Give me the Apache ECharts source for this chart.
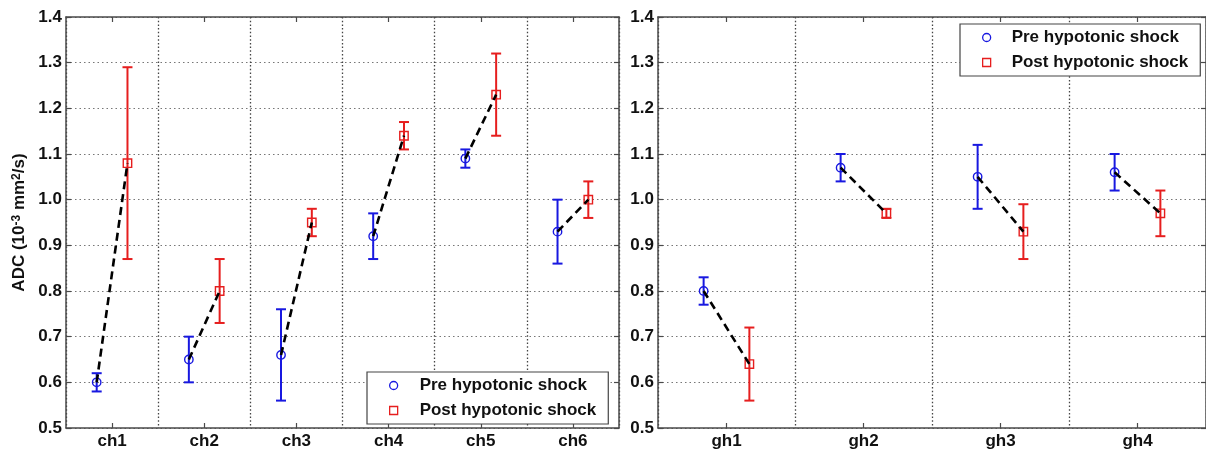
<!DOCTYPE html>
<html>
<head>
<meta charset="utf-8">
<script src="https://cdn.jsdelivr.net/npm/echarts@6/dist/echarts.min.js"></script>
<style>
html,body{margin:0;padding:0;background:#fff;}
#chart{width:1206px;height:454px;}
</style>
</head>
<body>
<div id="chart"></div>
<script>
// ---- Data ----
const catsL = ['ch1', 'ch2', 'ch3', 'ch4', 'ch5', 'ch6'];
const preL    = [0.60, 0.65, 0.66, 0.92, 1.09, 0.93];
const preLoL  = [0.58, 0.60, 0.56, 0.87, 1.07, 0.86];
const preHiL  = [0.62, 0.70, 0.76, 0.97, 1.11, 1.00];
const postL   = [1.08, 0.80, 0.95, 1.14, 1.23, 1.00];
const postLoL = [0.87, 0.73, 0.92, 1.11, 1.14, 0.96];
const postHiL = [1.29, 0.87, 0.98, 1.17, 1.32, 1.04];

const catsR = ['gh1', 'gh2', 'gh3', 'gh4'];
const preR    = [0.80, 1.07, 1.05, 1.06];
const preLoR  = [0.77, 1.04, 0.98, 1.02];
const preHiR  = [0.83, 1.10, 1.12, 1.10];
const postR   = [0.64, 0.97, 0.93, 0.97];
const postLoR = [0.56, 0.96, 0.87, 0.92];
const postHiR = [0.72, 0.98, 0.99, 1.02];

const yMin = 0.5, yMax = 1.4, yStep = 0.1;
const seriesNames = ['Pre hypotonic shock', 'Post hypotonic shock'];

// ---- Style ----
const BLUE = '#1818e0';
const RED = '#e61e1e';
const FONT = 'Liberation Sans';
const AXIS = '#4a4a4a';
const OFFSET = 0.167;

function errItems(mean, lo, hi) {
  return mean.map((m, i) => [i, m, lo[i], hi[i]]);
}
function pairItems(pre, post) {
  return pre.map((p, i) => [i, p, post[i]]);
}

function errRenderer(color, shape, sign) {
  return function (params, api) {
    const i = api.value(0);
    const bw = api.size([1, 0])[0];
    const c = api.coord([i, api.value(1)]);
    const x = c[0] + sign * bw * OFFSET;
    const yLo = api.coord([i, api.value(2)])[1];
    const yHi = api.coord([i, api.value(3)])[1];
    const cap = 5, r = 4.2;
    const st = { stroke: color, lineWidth: 2, fill: null };
    const children = [
      { type: 'line', shape: { x1: x, y1: yLo, x2: x, y2: yHi }, style: st },
      { type: 'line', shape: { x1: x - cap, y1: yLo, x2: x + cap, y2: yLo }, style: st },
      { type: 'line', shape: { x1: x - cap, y1: yHi, x2: x + cap, y2: yHi }, style: st }
    ];
    if (shape === 'circle') {
      children.push({ type: 'circle', shape: { cx: x, cy: c[1], r: r },
        style: { stroke: color, lineWidth: 1.4, fill: 'rgba(255,255,255,0)' } });
    } else {
      children.push({ type: 'rect', shape: { x: x - r, y: c[1] - r, width: 2 * r, height: 2 * r },
        style: { stroke: color, lineWidth: 1.4, fill: 'rgba(255,255,255,0)' } });
    }
    return { type: 'group', children: children };
  };
}

function lineRenderer(params, api) {
  const i = api.value(0);
  const bw = api.size([1, 0])[0];
  const a = api.coord([i, api.value(1)]);
  const b = api.coord([i, api.value(2)]);
  return {
    type: 'line',
    shape: { x1: a[0] - bw * OFFSET, y1: a[1], x2: b[0] + bw * OFFSET, y2: b[1] },
    style: { stroke: '#000', lineWidth: 2.6, lineDash: [8, 5] }
  };
}

function makeX(cats, gridIndex, position) {
  const bottom = position === 'bottom';
  return {
    type: 'category', gridIndex: gridIndex, position: position, data: cats,
    axisLine: { show: true, lineStyle: { color: AXIS, width: 1.5 } },
    axisTick: { show: true, inside: true, length: 5, alignWithLabel: true, lineStyle: { color: AXIS, width: 1.2 } },
    axisLabel: { show: bottom, color: '#111', fontFamily: FONT, fontWeight: 'bold', fontSize: 17, margin: 5 },
    splitLine: { show: bottom, interval: 0, lineStyle: { color: '#444', width: 1.3, type: [1.5, 2.2] } }
  };
}
function makeY(gridIndex, position, withName) {
  const left = position === 'left';
  const ax = {
    type: 'value', gridIndex: gridIndex, position: position,
    min: yMin, max: yMax, interval: yStep,
    axisLine: { show: true, lineStyle: { color: AXIS, width: 1.5 } },
    axisTick: { show: true, inside: true, length: 5, lineStyle: { color: AXIS, width: 1.2 } },
    axisLabel: { show: left, color: '#111', fontFamily: FONT, fontWeight: 'bold', fontSize: 17, margin: 4,
      formatter: v => v.toFixed(1) },
    splitLine: { show: left, lineStyle: { color: '#777', width: 1.2, type: [1.5, 3] } }
  };
  if (withName) {
    ax.name = 'ADC (10{sup|-3} mm{sup|2}/s)';
    ax.nameLocation = 'middle';
    ax.nameGap = 38;
    ax.nameTextStyle = {
      color: '#111', fontFamily: FONT, fontWeight: 'bold', fontSize: 17,
      rich: { sup: { fontFamily: FONT, fontWeight: 'bold', fontSize: 12, color: '#111', verticalAlign: 'top', lineHeight: 12 } }
    };
  }
  return ax;
}

function makeLegend(left, top, textPad) {
  return {
    left: left, top: top, orient: 'vertical',
    backgroundColor: '#fff', borderColor: '#444', borderWidth: 1.2, borderRadius: 0,
    padding: [4, 12, 4, 22],
    itemWidth: 8, itemHeight: 8, itemGap: 6,
    selectedMode: false,
    textStyle: { color: '#111', fontFamily: FONT, fontWeight: 'bold', fontSize: 17, lineHeight: 19, padding: [0, 0, 0, textPad] },
    data: [
      { name: seriesNames[0], icon: 'circle', itemStyle: { color: '#fff', borderColor: BLUE, borderWidth: 1.3 } },
      { name: seriesNames[1], icon: 'rect', itemStyle: { color: '#fff', borderColor: RED, borderWidth: 1.3 } }
    ]
  };
}

const option = {
  backgroundColor: '#fff',
  animation: false,
  grid: [
    { left: 66, top: 17, width: 553, height: 411 },
    { left: 658, top: 17, width: 556, height: 411 }
  ],
  xAxis: [
    makeX(catsL, 0, 'bottom'), makeX(catsL, 0, 'top'),
    makeX(catsR, 1, 'bottom'), makeX(catsR, 1, 'top')
  ],
  yAxis: [
    makeY(0, 'left', true), makeY(0, 'right', false),
    makeY(1, 'left', false), makeY(1, 'right', false)
  ],
  legend: [makeLegend(367, 372, 17), makeLegend(960, 24, 16)],
  series: [
    { type: 'custom', name: seriesNames[0], xAxisIndex: 0, yAxisIndex: 0, itemStyle: { color: BLUE },
      renderItem: errRenderer(BLUE, 'circle', -1), data: errItems(preL, preLoL, preHiL), z: 3 },
    { type: 'custom', name: seriesNames[1], xAxisIndex: 0, yAxisIndex: 0, itemStyle: { color: RED },
      renderItem: errRenderer(RED, 'rect', 1), data: errItems(postL, postLoL, postHiL), z: 3 },
    { type: 'custom', name: 'lineL', xAxisIndex: 0, yAxisIndex: 0,
      renderItem: lineRenderer, data: pairItems(preL, postL), z: 4 },
    { type: 'custom', name: seriesNames[0], xAxisIndex: 2, yAxisIndex: 2, itemStyle: { color: BLUE },
      renderItem: errRenderer(BLUE, 'circle', -1), data: errItems(preR, preLoR, preHiR), z: 3 },
    { type: 'custom', name: seriesNames[1], xAxisIndex: 2, yAxisIndex: 2, itemStyle: { color: RED },
      renderItem: errRenderer(RED, 'rect', 1), data: errItems(postR, postLoR, postHiR), z: 3 },
    { type: 'custom', name: 'lineR', xAxisIndex: 2, yAxisIndex: 2,
      renderItem: lineRenderer, data: pairItems(preR, postR), z: 4 }
  ]
};

const chart = echarts.init(document.getElementById('chart'), null, { renderer: 'canvas' });
chart.setOption(option);
</script>
</body>
</html>
